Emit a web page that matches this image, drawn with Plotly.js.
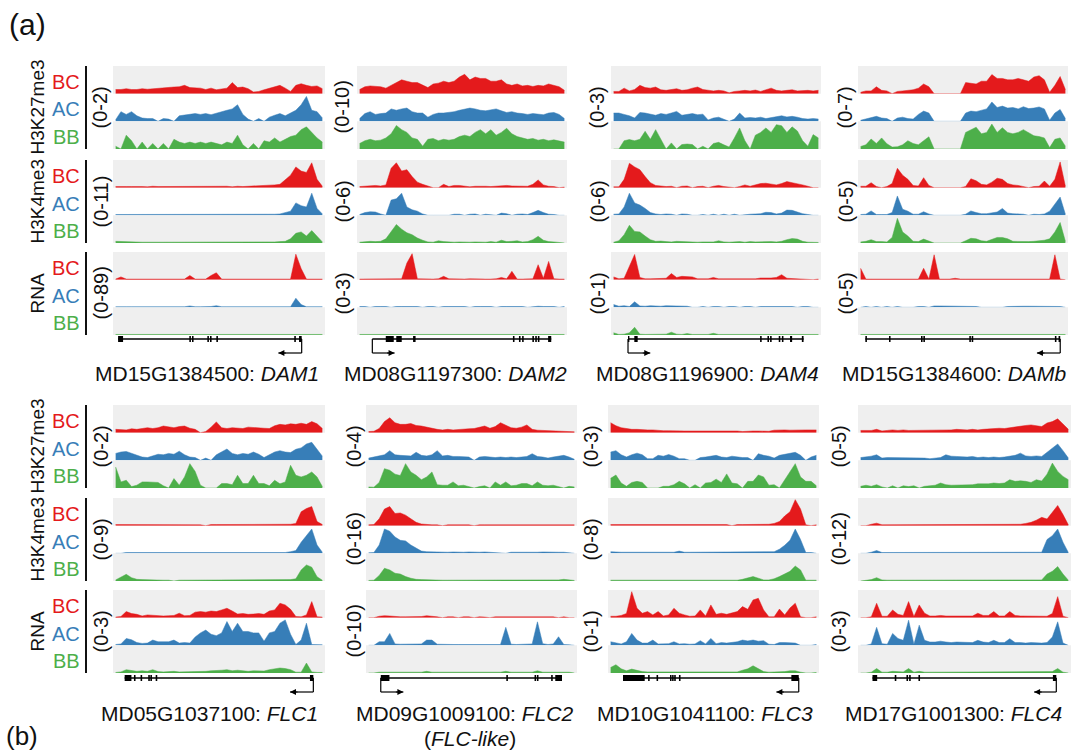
<!DOCTYPE html>
<html><head><meta charset="utf-8">
<script src="https://cdn.plot.ly/plotly-3.0.1.min.js"></script>
<style>html,body{margin:0;padding:0;background:#fff}#chart{width:1081px;height:753px}</style>
</head><body><div id="chart"></div>
<script>
// ---------- bins (40 bins across each gene window) ----------
const pos = [0.5,1.5,2.5,3.5,4.5,5.5,6.5,7.5,8.5,9.5,10.5,11.5,12.5,13.5,14.5,15.5,16.5,17.5,18.5,19.5,20.5,21.5,22.5,23.5,24.5,25.5,26.5,27.5,28.5,29.5,30.5,31.5,32.5,33.5,34.5,35.5,36.5,37.5,38.5,39.5];

// ---------- gene labels / scales ----------
const geneIds = ['MD15G1384500','MD08G1197300','MD08G1196900','MD15G1384600','MD05G1037100','MD09G1009100','MD10G1041100','MD17G1001300'];
const geneNames = ['DAM1','DAM2','DAM4','DAMb','FLC1','FLC2','FLC3','FLC4'];
const markNames = ['H3K27me3','H3K4me3','RNA'];
const tissueNames = ['BC','AC','BB'];
const dam1_ranges = ['(0-2)','(0-11)','(0-89)'];
const dam2_ranges = ['(0-10)','(0-6)','(0-3)'];
const dam4_ranges = ['(0-3)','(0-6)','(0-1)'];
const damb_ranges = ['(0-7)','(0-5)','(0-5)'];
const flc1_ranges = ['(0-2)','(0-9)','(0-3)'];
const flc2_ranges = ['(0-4)','(0-16)','(0-10)'];
const flc3_ranges = ['(0-3)','(0-8)','(0-1)'];
const flc4_ranges = ['(0-5)','(0-12)','(0-3)'];

// ---------- signal values (0-10 = full track scale) ----------
// DAM1
const dam1_k27_bc = [1.5,1.5,1.8,1.5,1.5,1.8,1.6,1.8,2,2,2.2,2.4,2.5,3,2.2,2,2,1.5,2,1.4,1.8,2,4,2.2,2.4,1.8,0.6,0.8,1.4,2,2.5,3,2,0.8,3,3.6,3,2.6,2.8,1.8];
const dam1_k27_ac = [0.6,3.5,2.5,3.5,2,1.2,1,1,0,1,0.8,0,2,2.2,2.4,2.8,2.5,2.8,2.4,3,3.5,4,4.5,6,2.5,0.8,0,1,0,1.5,2.2,2.8,2,3,4,6,9,4,3.5,1.2];
const dam1_k27_bb = [1,0,5,3,0,2.5,0,2,0,2,0,3.5,2.5,2,2.5,2,2.5,2,2.5,2,1.5,2.5,2,5,1.5,0,2,0,3,2.5,4,2.5,3.5,4.5,5,7,8,6,4,2.5];
const dam1_k4_bc = [0.4,0.5,0.4,0.4,0.5,0.4,0.3,0.5,0.4,0.4,0.5,0.4,0.6,0.5,0.4,0.6,0.5,0.4,0.5,0.6,0.4,0.5,0.3,0.5,0.4,0.5,0.4,0.6,0.6,0.8,1,1.2,3,4.5,7.5,6,5.5,9,3,0.5];
const dam1_k4_ac = [0.3,0.3,0.2,0.3,0.3,0.2,0.3,0.3,0.3,0.2,0.3,0.3,0.4,0.3,0.3,0.4,0.3,0.3,0.3,0.3,0.2,0.3,0.3,0.2,0.3,0.3,0.3,0.3,0.3,0.4,0.4,0.5,1,1.5,4.5,3.5,3,8,2.5,0.5];
const dam1_k4_bb = [0.6,0.5,0.4,0.3,0.3,0.3,0.3,0.2,0.3,0.3,0.3,0.3,0.3,0.3,0.3,0.3,0.3,0.3,0.2,0.3,0.3,0.3,0.3,0.3,0.3,0.3,0.3,0.3,0.3,0.3,0.4,0.5,0.6,1.5,3.5,4,2.5,4.5,2.5,0.4];
const dam1_rna_bc = [0.2,1,0.2,0.2,0.2,0.2,0.2,0.2,0.2,0.2,0.2,0.2,0.2,0.2,1.5,0.2,0.2,0.2,1.5,2.5,0.2,0.2,0.2,0.2,0.2,0.2,0.2,0.2,0.2,0.2,0.2,0.2,0.2,0.2,9.2,4,0.2,0.2,0.2,0.2];
const dam1_rna_ac = [0.2,0.3,0.2,0.2,0.2,0.2,0.2,0.2,0.2,0.2,0.2,0.2,0.2,0.2,0.5,0.2,0.2,0.2,0.3,0.6,0.2,0.2,0.2,0.2,0.2,0.2,0.2,0.2,0.2,0.2,0.2,0.2,0.2,0.2,3.3,1,0.2,0.2,0.2,0.2];
const dam1_rna_bb = [0.2,0.2,0.2,0.2,0.2,0.2,0.2,0.2,0.2,0.2,0.2,0.2,0.2,0.2,0.2,0.2,0.2,0.2,0.2,0.2,0.2,0.2,0.2,0.2,0.2,0.2,0.2,0.2,0.2,0.2,0.2,0.2,0.2,0.2,0.2,0.2,0.2,0.2,0.2,0.2];
// DAM2
const dam2_k27_bc = [1.5,2.5,2.8,2.6,2.5,2,3,4,5,4.5,4,4,3,2.2,3.5,3.8,4.5,4,4.5,6,7,5,6,5.5,5.5,4.5,4.5,5,3.5,3,3.5,2.8,3,2.6,3,2.8,3.5,3,2.5,1.2];
const dam2_k27_ac = [1,2.8,3.5,2.5,2.8,3,4.5,4,4.5,4.8,3.5,3,3,1.5,2.5,3,3,3.2,3.5,4,4.5,4.8,4.5,4,3.8,4.2,4.5,3.8,3.2,3.5,3,2.8,2.5,2.8,2.5,2.4,3,3.2,2.5,1];
const dam2_k27_bb = [2,3,3.5,3,3.2,4,5.5,8.5,7,6,4,3.5,1,3.5,3.8,3,3.5,3.2,3.5,4.5,5,4.5,6,7,5.5,7,5,6,7.5,5.5,4.5,4,3.5,3.8,3.2,3.5,3,3.3,3,2.5];
const dam2_k4_bc = [0.4,0.6,0.8,0.8,0.6,1,7,9,6,6.5,4,2,1.2,0.6,0,0,1.2,0.4,0.8,0.8,0.5,0.3,0.5,0.6,0.5,0.4,0.5,0.6,0.8,0.6,0.5,0.6,0.5,1.2,2.8,1,0.5,0.4,0,0.2];
const dam2_k4_ac = [0.3,1,1.3,1.2,0.5,0,5.5,6,8,3,2,1.5,0.5,0,0,0,0,0,0.4,0.4,0,0.4,0.5,0,0.4,0.3,0,0.8,0.6,0,0.4,0.5,0.3,1,1.8,1,0.4,0.3,0,0];
const dam2_k4_bb = [0.3,0.5,0.6,0.5,0.6,1.5,4,6.7,5,3.7,3,1.8,1,0.4,0.3,0.8,0.5,0.3,0.3,0.4,0.3,0.3,0.4,0.3,0.3,0.5,0.3,1,0.5,0.6,0.8,0.4,0.5,1.2,2.4,1,0.5,0.4,0.3,0];
const dam2_rna_bc = [0.2,0.2,0.2,0.2,0.2,0.2,0.2,0.2,0.3,6,9.4,0.3,0.2,0.2,0.2,0.3,1.2,0.3,0.2,0.2,0.2,0.3,0.2,0.2,0.2,0.2,0.3,0.8,0.3,3,0.2,0.2,0.2,0.3,5.4,0.5,6.6,0.3,0.2,0.2];
const dam2_rna_ac = [0.3,0.3,0,0.3,0.3,0.3,0,0.3,0.3,0.4,0.3,0.3,0,0.3,0.3,0,0.3,0.3,0.3,0.3,0.3,0,0.3,0.3,0.3,0.3,0,0.3,0.3,0.3,0.3,0.3,0,0.3,0.4,0.3,0.3,0.3,0,0.3];
const dam2_rna_bb = [0.2,0.2,0.3,0.2,0.2,0.2,0.2,0.2,0.2,0.3,0.2,0.2,0.2,0.2,0.2,0.2,0.3,0.2,0.2,0.2,0.2,0.2,0.2,0.2,0.2,0.2,0.2,0.2,0.2,0.3,0.2,0.2,0.2,0.2,0.2,0.2,0.2,0.2,0.2,0.2];
// DAM4
const dam4_k27_bc = [0.8,0.8,2,1,1.5,3,2.2,2,2.4,1.4,1.2,1.5,1.8,1.2,1.4,2,2.4,1.5,1.2,1,1.2,1,0.3,0.8,1,1.2,1,1.3,0.8,1.4,2,1.2,1,1.2,1.4,1,1.2,1.2,1,1.2];
const dam4_k27_ac = [3,3,2.5,2,1.2,3.2,3,2.5,2.2,2.8,2.5,3,3.6,2.2,2.6,2.8,2.4,2.6,0.5,1.2,1.5,0.8,0,0.8,3,1.2,1.4,1.2,1.5,1,1.4,1.8,2,1.6,1.8,1.5,1,0.8,1,0.8];
const dam4_k27_bb = [0,0,3,3.4,3,3.5,6.4,3.5,7,3.5,0,2.2,0,1.6,1.8,1.6,0,1,0,2,2.4,1.5,0.7,4,7.6,3,0,5,6,7.6,6,8.8,8.4,6,8,6.5,3,1,5.2,4];
const dam4_k4_bc = [0.3,0.3,3,8.8,7.5,6.5,4,1.8,0.8,0.5,0.4,0.5,0,0.5,0.6,0,0.4,0.5,0,0.5,0.8,0.4,0.3,0,0.4,1,0.5,1,1.5,1.6,1.2,1,1.5,2.2,1.8,1.5,1,0.5,0,0];
const dam4_k4_ac = [0.4,0.5,3,8,4.5,3.7,2.5,1,0.5,0.3,0.5,0.4,0,0.5,0.4,0,0,0.3,0,0.4,0,0.4,0,0.4,0,0.3,0.4,0.5,0.6,1.1,1,0.5,0.8,1.9,1.8,1.2,0.6,0.3,0,0];
const dam4_k4_bb = [0.3,0.8,3,6.4,4.2,4,2.5,1.2,0.6,0.7,0.5,0.4,0.6,0.5,0.4,0.5,0.3,0.4,0.5,0.4,0.8,0.4,0.3,0.4,0.5,0.3,0.5,0.4,0.5,0.6,0.5,0.4,0.6,1.2,1.6,1.4,0.6,0.3,0.3,0.2];
const dam4_rna_bc = [1,0.3,0.5,4.9,9.1,0.8,0.3,0.3,0.3,0.3,0.5,2.2,0.8,1.2,1.2,1,0.3,0.3,0.3,0.8,0.3,0.3,0.3,0.3,0.3,0.3,0.3,0.3,0.6,0.5,0.6,0.8,1.8,0.5,0.4,0.3,0.2,0.2,0,0.2];
const dam4_rna_ac = [1,0.4,0.6,0.3,2,0.5,0.4,0.6,0.5,0.4,0.6,0.6,0.4,0.5,0.4,0,0,0.3,0,0.3,0.3,0,0.3,0.3,0,0.3,0.3,0,0.3,0.3,0.3,0.3,0.3,0.3,0.3,0,0.3,0.3,0,0];
const dam4_rna_bb = [0.8,0.2,0.3,0.8,2.8,0.3,0.2,0.2,0.2,0.2,0.3,1,0.3,0.2,0.5,0.2,0.2,0.2,0.2,0.6,0.2,0.2,0.2,0.2,0.2,0.2,0.2,0.2,0.2,0.2,0.2,0.2,0.2,0.2,0.2,0.2,0.2,0.2,0.2,0.2];
// DAMb
const damb_k27_bc = [0.5,1,1,2.5,1.2,1,0,0.8,1,1.2,1.4,2,3.5,2.5,0,0,0,0,0,0,4,3.8,3.5,4.5,4.5,6.9,5.5,5.5,5,5,5.5,5,4.5,6,6.5,5,0.5,3,6.2,1.5];
const damb_k27_ac = [0.4,0.8,1.2,1.8,1.2,1,0,1.2,1.5,1,0.8,2.5,3.7,3,0,0,0,0,0,0,3,3.7,3.5,4,4.5,7,5,5.5,4.8,5,4.5,5.3,4.6,4.8,5.2,4.5,0.4,3,4.3,1];
const damb_k27_bb = [0.9,1.5,3.6,2,4,1.9,0.7,0.8,1.5,3,2,1.5,3,4.4,0,0,0,0,0,0,6,7,7.9,5.5,6,9,6,7.7,6,5.5,6,7,6,4.8,4.5,4,0.5,3.5,4,1];
const damb_k4_bc = [0.5,0.5,1.8,0.4,0,0.4,1.5,7,4.5,3,0.8,0.6,3.6,0.8,0,0,0,0,0,0,0.4,3.2,2.5,1.2,1,2,3.4,3,1.5,1,0.8,0.4,0,0.4,0.5,2.4,0.5,3,9.3,0.5];
const damb_k4_ac = [0.3,0.4,1.6,0.3,0.3,0.3,1,7,2.2,1.5,0.4,0.4,1.3,0.5,0,0,0,0,0,0,0.4,1.6,1,0.6,0.6,0.8,1.2,2.5,0.8,0.6,0.6,0.4,0,0.4,0.3,0.5,1.5,4,6.6,0.4];
const damb_k4_bb = [0.4,0.6,1.2,0.5,0.5,0.4,2,8.9,4,2.5,0.6,0.5,1.4,0.6,0,0,0,0,0,0,0.8,1.7,1.5,0.8,0.6,1.2,2,2,1.5,0.6,0.5,0.4,0.5,0.6,0.8,1,1.5,4,7.4,0.6];
const damb_rna_bc = [4.1,0.2,0.2,0.2,0.2,0.2,0.2,0.2,0.2,0.2,0.2,0.2,4.1,0.2,9,0.2,0.2,0.2,0.5,0.2,0.2,0.2,0.2,0.2,0.2,0.2,0.2,0.2,0.2,0.2,0.2,0.2,0.2,0.2,0.2,0.2,0.2,9,0.2,0];
const damb_rna_ac = [0,0.3,0,0.3,0,0.3,0,0.3,0,0,0,0.3,0.3,0,0.5,0.5,0.5,0.5,0.5,0.5,0.5,0.5,0.3,0,0,0,0,0,0.3,0.4,0.4,0.4,0.4,0.4,0.4,0.4,0.4,0.4,0.3,0];
const damb_rna_bb = [0.2,0.2,0.2,0.2,0.2,0.2,0.2,0.2,0.2,0.2,0.2,0.2,0.2,0.2,0.4,0.4,0.4,0.4,0.4,0.3,0.2,0.2,0.2,0.2,0.2,0.2,0.2,0.2,0.2,0.2,0.2,0.2,0.2,0.2,0.2,0.2,0.2,0.2,0.2,0.2];
// FLC1
const flc1_k27_bc = [1.2,1.2,1,1.4,1.2,1.5,1.8,1.5,1.8,2.4,2,1.8,2.2,2.4,1.6,1.2,0,0.4,2,3.9,1.8,1.5,1.8,1.6,1.5,2,1.8,1.6,1.6,1.5,2.5,3,2.8,3.2,3,3.4,3,4,3.2,1.5];
const flc1_k27_ac = [2.5,3,3.2,2.5,2,1.2,1,1.5,2.2,2,2.5,2.2,3.3,2,1.2,1,0,0.8,0,2,3,4.1,2.5,2,2.5,2.2,3,2.2,1,2,3,3.5,3,2.8,4,4.5,5.9,6.5,4,1.5];
const flc1_k27_bb = [7.6,2.2,2.8,0.5,1,2.2,2.2,2.2,2,0.8,0,3.4,1,4,8.8,6,1,0,0,0,1.6,1.6,1.2,4.6,1.6,1.6,4.6,1.6,1.6,0.8,2.8,1.5,2.2,8.2,4.6,4,4.6,5.8,4,0.5];
const flc1_k4_bc = [0.4,0.4,0.4,0.4,0.3,0.4,0.4,0.3,0.4,0.4,0.4,0.3,0.4,0.4,0.4,0.4,0.3,0,0.4,0.4,0.4,0.4,0.4,0.3,0.4,0.4,0.4,0.4,0.4,0.4,0.4,0.4,0.5,0.5,0.8,5,6.2,6.9,1.5,0.4];
const flc1_k4_ac = [0,0,0.3,0.3,0.3,0.3,0.3,0.3,0.3,0.3,0.3,0.3,0.3,0.3,0.3,0.3,0.3,0.3,0.3,0.3,0.3,0.3,0.3,0.3,0.3,0.3,0.3,0.3,0.3,0.3,0.3,0.3,0.3,0.6,1,4,6.5,8.8,3,0.4];
const flc1_k4_bb = [0.4,1.5,2.4,1.2,0.6,0.5,0.4,0.4,0.4,0.3,0.3,0,0.3,0.3,0.3,0.3,0.3,0.3,0.3,0.3,0.3,0.3,0.3,0.3,0.3,0.3,0.3,0.3,0.3,0.3,0.3,0.3,0.3,0.5,0.8,4,5.8,5,1.5,0.3];
const flc1_rna_bc = [0.2,0.4,2.2,1.5,1.2,0.6,1,0.8,0.7,0.6,0.7,0.8,1.6,0.7,0.8,2,2.2,2,2.4,2.2,2.8,3.4,2.4,1.3,1.5,1.2,1.3,1.5,1.2,2.4,2.8,5.2,4.6,3,0.4,0.3,1,5.8,0.3,0.2];
const flc1_rna_ac = [0.3,0.5,2.5,2,1,0.7,0.8,1.9,1.3,1.2,1.3,1.9,0.8,1,0.8,3,4.5,5.5,4,3.5,4.5,8.6,5,8,5,5,4.5,4.5,1.5,4.5,5,8,9.2,4,0.3,1.9,8,0.3,0.2,0.2];
const flc1_rna_bb = [0.2,0.4,1.2,0.8,0.6,0.8,0.6,1.2,0.5,0.4,0.5,0.6,0.4,0.4,0.6,0.5,0.6,0.6,0.8,0.8,1,1.2,0.8,1,0.8,0.6,0.8,0.8,0.7,1.2,1.4,1.8,1.6,1.2,0.3,0.3,3.6,0.4,0.2,0.2];
// FLC2
const flc2_k27_bc = [0.4,0.5,1.5,4,5.4,3.6,3,3,3.3,2.6,2.4,2,1.4,1.2,1,1.2,1,1.2,1.2,1.4,1.5,2,2.4,1.6,2.2,3.6,2.6,1.8,1.6,2,2.8,1.2,0.9,0.8,0.8,0.8,0.6,0.4,0.4,0.3];
const flc2_k27_ac = [0.8,1.2,1.4,2,3.5,2,1.8,1.8,1.6,2.9,1.8,1.6,2,3.5,1.6,1.8,1.4,1.4,1.2,1.2,0,1.2,1.4,1.2,1,1.2,1,1.2,1,1.2,1.4,2.4,1.4,1.2,0.8,1.2,1.6,1.8,1.2,0.4];
const flc2_k27_bb = [0.4,0.3,2,7,6.4,5,4.5,8.8,5.8,4.6,3,4,5.8,1.2,1,1,2.2,0.8,1,0.5,0,0.5,0.8,0,2.2,1,2.2,0.8,1,1.6,1.6,0.8,2.2,1,0.8,1,0.6,0,0.6,0.4];
const flc2_k4_bc = [0.3,0.4,2.5,6,6.9,4.4,4.6,3.8,2.5,1.2,0.6,0.4,0.3,0.3,0,0.3,0.3,0.3,0.3,0.3,0,0.3,0.3,0.3,0.3,0.3,0.3,0.3,0.3,0.3,0.3,0.3,0.3,0.3,0.3,0.4,0.4,0.3,0.3,0.3];
const flc2_k4_ac = [0.2,0.3,3,8.8,8,5.9,4.7,4.5,3,1.8,0.8,0.6,0.5,0.5,0.5,0.4,0.5,0.4,0.4,0.5,0.4,0.4,0.5,0.4,0.4,0.3,0,0.4,0.5,0.4,0.4,0.3,0.4,0.5,0.4,0.3,0.4,0.4,0.3,0];
const flc2_k4_bb = [0.2,0.3,2,4.6,4,2.8,2.5,1.6,1,0.6,0.5,0.4,0.3,0.3,0.3,0.3,0.3,0.3,0.3,0.3,0.3,0.3,0.3,0.3,0.3,0.3,0.3,0.3,0.3,0.3,0.3,0.3,0.3,0.3,0.3,0.3,0.4,0.6,0.5,0.2];
const flc2_rna_bc = [0,0,0.5,0.7,0.6,0.4,0.3,0.3,0.3,0.3,0.4,0.7,0.6,0.3,0,0.3,0.3,0,0.3,0.3,0,0.3,0.2,0,0.3,0.3,0.3,0.3,0.3,0.3,0.3,0.3,0.3,0.3,0.3,0.3,0,0.3,0,0];
const flc2_rna_ac = [0,0,1.3,1.3,4.3,0.5,0.4,0.4,0.3,0.4,0.5,1.9,1.9,0.4,0.3,0.3,0.3,0.3,0.3,0.3,0.3,0.3,0.3,0.3,0.3,0.3,6.5,0.4,0.3,0.4,0.4,0.5,8.5,0.6,0.3,0.5,3.1,0.3,0.2,0];
const flc2_rna_bb = [0,0,0.3,0.3,0.3,0.3,0.3,0.3,0.3,0.3,0.3,0.6,0.3,0.3,0.3,0.3,0.3,0.3,0.3,0.3,0.3,0.3,0.3,0.3,0.3,0.3,0.6,0.3,0.3,0.3,0.3,0.3,0.8,0.3,0.3,0.3,0.3,0.3,0.3,0];
// FLC3
const flc3_k27_bc = [3.6,2.5,1.8,1.5,1.2,1.2,1,1,1,0.8,0.7,0.7,0.6,0.7,0.6,0.6,0.6,0.7,0.6,0.6,0.7,0.6,0.6,0.5,0.6,0.4,0.6,0.6,0.6,0.5,0.5,0.9,1,1,0.9,1,0.9,1,1,1];
const flc3_k27_ac = [3,3.5,2,1.2,2,2.6,2,0.6,0.6,1.8,1.5,2.1,1.5,0.6,0.6,0,0,1,1.2,1.5,1.8,1.2,1,1.5,1.2,1,1,0,2.4,1.8,1.5,0.8,1.8,2.2,2.6,2.9,1.8,0,1.2,1.8];
const flc3_k27_bb = [3.5,4.7,1.8,0.6,2,2.4,2,0,0,0,0.6,0.6,1.2,2.4,1.5,0,1.2,0,1.8,2,3.2,2,5.1,1.8,1.5,0,2.4,2.4,4.7,4,1,1.2,0,3,6,8.8,4,2.4,2.4,0.8];
const flc3_k4_bc = [0.4,0.4,0.4,0.5,0.4,0.4,0.4,0.4,0.5,0.4,0.4,0.4,0.4,0.4,0.4,0.4,0.4,0.5,0.4,0.4,0.4,0.4,0.4,0,0.4,0.4,0.4,0.4,0.4,0.4,0.5,0.8,1.5,3.5,5,9.4,6,0.3,0,0.3];
const flc3_k4_ac = [0.6,0.4,0.4,0.4,0.4,0.4,0.4,0.4,0.4,0.4,0.4,0.4,0.4,0.8,0.4,0.4,0.4,0.4,0.4,0.4,0.4,0.4,0.4,0.4,0.4,0.4,0.4,0.4,0.4,0.4,0.4,0.6,1.5,2.9,4.7,8.8,5,0.3,0.3,0];
const flc3_k4_bb = [0.3,0.3,0.3,0.3,0.3,0.3,0.3,0.3,0.3,0.3,0.3,0.3,0.3,0.3,0.3,0.3,0.3,0.3,0.3,0.3,0.3,0.3,0.3,0.3,0.3,0.6,1.2,1.6,1,0.4,0.4,0.8,1.6,2.5,3.5,5.4,4,0.3,0.3,0.3];
const flc3_rna_bc = [0.5,0.5,0.8,1.5,9.4,3.4,1.6,2.2,1,2.2,0.6,1,3.4,1.6,1,0.5,0.6,2.8,0.6,4.6,1.2,1.6,1.2,1.6,2.2,4,3,6.4,7,2.8,0.3,0.3,3.1,1,3.5,5.2,0.3,0,0,0.3];
const flc3_rna_ac = [1.3,1,0.5,1.3,4.3,1.9,0.8,0.8,1.9,0.5,0.5,0.6,1.3,0.5,0.6,0.4,0.5,1.7,0.5,2.5,0.6,1,0.8,1,1.3,1.9,1.6,1.9,1.5,1.7,0.4,0.3,1,1,1,0.8,0,0,0,0.3];
const flc3_rna_bb = [2,3,1.5,0.8,1.4,1,0.5,0.4,0.4,0.5,0.4,0.5,0.4,0.3,0.3,0.3,0.3,0.3,0.3,0.3,0.3,0.3,0.3,0.3,0.4,1,1.5,2.6,1.5,0.5,0.3,0.3,0.4,0.5,0.8,0.8,0.3,0,0,0.2];
// FLC4
const flc4_k27_bc = [0.8,0.8,0.8,1.2,0.6,0.8,1,0.8,1,0.8,0.8,0.8,1,0.8,0.8,1,0.8,1,1.2,1,1,1.2,1,1.2,1.4,1.5,1.6,1.5,1.8,2,2.5,2.6,2.8,2.6,2.2,3.5,4,5,3,1.2];
const flc4_k27_ac = [1,1.2,1.5,2,0.8,1,1,1,0.8,1,0.8,1,0.8,0.6,0.8,1,2,1.5,1.4,1.2,1.2,1.4,1,1.2,1,1.2,1,1.2,1.4,1.8,2.6,1.6,1.4,1.6,1.4,3,4.5,5.9,3.5,0.8];
const flc4_k27_bb = [0.6,1,0.6,1.2,0.4,0,0.8,0,0.8,0.5,0.8,0,0.6,0.8,1,1.8,1.2,1,1,1.2,1,1.2,1.5,1.4,1.5,1.8,1.6,1.8,3,2.4,2.6,2.4,2,3,2.5,5,9,6,4.2,3];
const flc4_k4_bc = [0,0,0.5,0.9,0.3,0.3,0.3,0.3,0.3,0.3,0.3,0.3,0.3,0.3,0.3,0.3,0.3,0.3,0.3,0.3,0.3,0.3,0.3,0.3,0.3,0.3,0.3,0.3,0.3,0.4,0.5,0.8,1.2,2,3,2.4,5,7.3,4,0.3];
const flc4_k4_ac = [0,0,0.4,1,0.3,0.3,0.3,0.3,0.3,0.3,0.3,0.3,0.3,0.3,0.3,0.3,0.3,0.3,0.3,0.3,0.3,0.3,0.3,0.3,0.3,0.3,0.3,0.3,0.3,0.3,0.3,0.3,0.3,0.3,0.4,5,6.4,8.8,4,0.3];
const flc4_k4_bb = [0,0.3,0.5,1.2,0.4,0.3,0.3,0.3,0.3,0.3,0.3,0.3,0.3,0.3,0.3,0.3,0.3,0.3,0.3,0.3,0.3,0.3,0.3,0.3,0.3,0.3,0.3,0.3,0.3,0.3,0.3,0.3,0.3,0.3,0.4,2.5,3.5,5.2,2.5,0.3];
const flc4_rna_bc = [0,0,0.3,5.2,0.5,0.5,2.8,1.2,0.8,5.8,0.4,4.6,1.6,0.6,0.6,0.8,0.6,0.6,0.8,0.6,0.6,0.6,1.6,0.8,0.8,2.2,0.6,0.6,2.2,0.8,0.6,0.6,0.6,0.5,0.5,0.5,1.5,7.6,0.5,0];
const flc4_rna_ac = [0,0,0.5,6.5,0.6,0.4,4.3,2.5,1.8,9.1,0.4,7.3,1.8,1.2,1.2,1.5,1.2,1,1.2,1.2,1,1,1.8,1.2,1,1.8,1,1,2.4,1,1,0.8,1,0.8,0.8,1,3,8.5,0.8,0];
const flc4_rna_bb = [0,0,0.3,1.6,0.3,0.3,0.6,0.4,0.4,1.6,0.3,0.6,0.3,0.3,0.3,0.3,0.3,0.3,0.3,0.3,0.3,0.3,0.3,0.3,0.3,0.3,0.3,0.3,0.3,0.3,0.3,0.3,0.3,0.3,0.3,0.3,0.5,1.6,0.3,0];

// ---------- gene models (in bin coordinates 0-40) ----------
const dam1_span = [0.96,35.6];
const dam1_exons = [[0.96,1.9],[14.4,14.7],[14.9,15.2],[17.8,18.1],[18.3,18.6],[19.5,19.8],[34.2,34.5],[35.1,35.6]];
const dam1_tss = [35.6,31.2];
const dam2_span = [2.92,37.0];
const dam2_exons = [[5.48,7.0],[7.48,8.52],[10.68,11.16],[29.7,30.0],[30.85,31.15],[31.45,31.75],[33.4,33.7],[33.95,34.25],[34.45,34.75],[36.4,37.0]];
const dam2_tss = [2.92,7.16];
const dam4_span = [3.24,36.68];
const dam4_exons = [[3.24,3.5],[4.44,5.08],[28.4,28.7],[29.8,30.1],[30.3,30.6],[31.95,32.25],[32.55,32.85],[34.1,34.5],[36.35,36.68]];
const dam4_tss = [3.24,7.48];
const damb_span = [1.4,38.52];
const damb_exons = [[1.4,1.7],[5.9,6.2],[12.0,12.3],[12.45,12.75],[21.2,21.5],[21.65,21.95],[37.5,37.8],[38.2,38.52]];
const damb_tss = [38.52,34.08];
const flc1_span = [2.2,37.8];
const flc1_exons = [[2.2,3.48],[3.95,4.25],[5.2,5.5],[6.65,6.95],[7.05,7.35],[8.05,8.35],[37.16,37.8]];
const flc1_tss = [37.8,33.4];
const flc2_span = [2.8,37.16];
const flc2_exons = [[2.8,4.44],[26.6,26.9],[31.95,32.25],[32.4,32.7],[35.1,35.4],[35.88,37.16]];
const flc2_tss = [2.8,7.08];
const flc3_span = [2.84,36.16];
const flc3_exons = [[2.84,6.96],[7.6,7.9],[9.2,9.5],[11.75,12.05],[12.15,12.45],[12.55,12.85],[13.45,13.75],[34.76,36.16]];
const flc3_tss = [36.16,31.92];
const flc4_span = [2.72,37.24];
const flc4_exons = [[2.72,3.6],[6.9,7.2],[9.1,9.4],[9.6,9.9],[11.35,11.65],[36.6,37.24]];
const flc4_tss = [37.24,33.08];

// ---------- assemble ----------
const genes = [
  {ranges:dam1_ranges, span:dam1_span, exons:dam1_exons, tss:dam1_tss, tracks:[dam1_k27_bc,dam1_k27_ac,dam1_k27_bb,dam1_k4_bc,dam1_k4_ac,dam1_k4_bb,dam1_rna_bc,dam1_rna_ac,dam1_rna_bb]},
  {ranges:dam2_ranges, span:dam2_span, exons:dam2_exons, tss:dam2_tss, tracks:[dam2_k27_bc,dam2_k27_ac,dam2_k27_bb,dam2_k4_bc,dam2_k4_ac,dam2_k4_bb,dam2_rna_bc,dam2_rna_ac,dam2_rna_bb]},
  {ranges:dam4_ranges, span:dam4_span, exons:dam4_exons, tss:dam4_tss, tracks:[dam4_k27_bc,dam4_k27_ac,dam4_k27_bb,dam4_k4_bc,dam4_k4_ac,dam4_k4_bb,dam4_rna_bc,dam4_rna_ac,dam4_rna_bb]},
  {ranges:damb_ranges, span:damb_span, exons:damb_exons, tss:damb_tss, tracks:[damb_k27_bc,damb_k27_ac,damb_k27_bb,damb_k4_bc,damb_k4_ac,damb_k4_bb,damb_rna_bc,damb_rna_ac,damb_rna_bb]},
  {ranges:flc1_ranges, span:flc1_span, exons:flc1_exons, tss:flc1_tss, tracks:[flc1_k27_bc,flc1_k27_ac,flc1_k27_bb,flc1_k4_bc,flc1_k4_ac,flc1_k4_bb,flc1_rna_bc,flc1_rna_ac,flc1_rna_bb]},
  {ranges:flc2_ranges, span:flc2_span, exons:flc2_exons, tss:flc2_tss, tracks:[flc2_k27_bc,flc2_k27_ac,flc2_k27_bb,flc2_k4_bc,flc2_k4_ac,flc2_k4_bb,flc2_rna_bc,flc2_rna_ac,flc2_rna_bb]},
  {ranges:flc3_ranges, span:flc3_span, exons:flc3_exons, tss:flc3_tss, tracks:[flc3_k27_bc,flc3_k27_ac,flc3_k27_bb,flc3_k4_bc,flc3_k4_ac,flc3_k4_bb,flc3_rna_bc,flc3_rna_ac,flc3_rna_bb]},
  {ranges:flc4_ranges, span:flc4_span, exons:flc4_exons, tss:flc4_tss, tracks:[flc4_k27_bc,flc4_k27_ac,flc4_k27_bb,flc4_k4_bc,flc4_k4_ac,flc4_k4_bb,flc4_rna_bc,flc4_rna_ac,flc4_rna_bb]}
];

// ---------- layout geometry (pixels) ----------
const W = 1081, H = 753;
const colX = [[113,325],[357,567],[611,821],[858,1068],[113,325],[366,577],[608,819],[858,1071]];
const groupTop = [[66,160,252],[405,498,590]];
const groupH = 83;
const rangeLabelX = [100,342,597,845,100,353,590,838];
const geneLabelX = [207,455,707,954,209,464,705,953];
const geneLineY = [339,678], arrowY = [353,692], labelY = [373,713];
const tissueColors = ['#e41a1c','#377eb8','#4daf4a'];
const FONT = 'Liberation Sans, Arial, Helvetica, sans-serif';
const px = v => v / W, py = v => 1 - v / H;

const data = [];
const layout = {
  width: W, height: H, margin: {l:0, r:0, t:0, b:0},
  paper_bgcolor: '#ffffff', plot_bgcolor: 'rgba(0,0,0,0)',
  showlegend: false, font: {family: FONT, color: '#111'},
  shapes: [], annotations: []
};

genes.forEach((g, p) => {
  const row = p < 4 ? 0 : 1;
  const xr = p === 0 ? 'x' : 'x' + (p + 1);
  const xname = p === 0 ? 'xaxis' : 'xaxis' + (p + 1);
  const firstY = p * 9 + 1;
  layout[xname] = {domain: [px(colX[p][0]), px(colX[p][1])], range: [0, 40], visible: false, fixedrange: true,
                   anchor: firstY === 1 ? 'y' : 'y' + firstY};
  g.tracks.forEach((vals, t) => {
    const grp = Math.floor(t / 3), s = t % 3;
    const top = groupTop[row][grp] + s * groupH / 3, bot = top + groupH / 3;
    const yi = p * 9 + t + 1;
    const yr = yi === 1 ? 'y' : 'y' + yi;
    layout[yi === 1 ? 'yaxis' : 'yaxis' + yi] = {domain: [py(bot), py(top)], range: [0, 10], visible: false, fixedrange: true, anchor: xr};
    if (s !== 1) {
      layout.shapes.push({type:'rect', xref: xr + ' domain', yref: yr + ' domain', x0:0, x1:1, y0:0, y1:1,
        fillcolor:'#efefef', line:{width:0}, layer:'below'});
    }
    data.push({type:'scatter', mode:'lines', x: pos, y: vals, xaxis: xr, yaxis: yr,
      line:{width:0.5, color: tissueColors[s]}, fill:'tozeroy', fillcolor: tissueColors[s], hoverinfo:'skip'});
  });
  // range labels
  for (let grp = 0; grp < 3; grp++) {
    const cy = groupTop[row][grp] + groupH / 2;
    layout.annotations.push({text: g.ranges[grp], x: px(rangeLabelX[p]), y: py(cy), xref:'paper', yref:'paper',
      showarrow:false, textangle:-90, xanchor:'center', yanchor:'middle', font:{size:20, family:FONT, color:'#111'}});
  }
  // gene model
  const ly = geneLineY[row], ay = arrowY[row];
  layout.shapes.push({type:'line', xref: xr, yref:'paper', x0: g.span[0], x1: g.span[1], y0: py(ly), y1: py(ly), line:{color:'#000', width:1.5}});
  g.exons.forEach(e => layout.shapes.push({type:'rect', xref: xr, yref:'paper', x0: e[0], x1: e[1], y0: py(ly + 3), y1: py(ly - 3), fillcolor:'#000', line:{width:0}}));
  layout.shapes.push({type:'line', xref: xr, yref:'paper', x0: g.tss[0], x1: g.tss[0], y0: py(ly), y1: py(ay), line:{color:'#000', width:1.2}});
  layout.shapes.push({type:'line', xref: xr, yref:'paper', x0: g.tss[0], x1: g.tss[1], y0: py(ay), y1: py(ay), line:{color:'#000', width:1.2}});
  const dir = g.tss[1] < g.tss[0] ? 1 : -1;
  layout.annotations.push({text:'', x: g.tss[1], y: py(ay), xref: xr, yref:'paper', showarrow:true, axref:'pixel', ayref:'pixel',
    ax: dir * 9, ay: 0, arrowhead:2, arrowsize:1, arrowwidth:1.2, arrowcolor:'#000', standoff:0});
  // gene label
  layout.annotations.push({text: geneIds[p] + ': <i>' + geneNames[p] + '</i>', x: px(geneLabelX[p]), y: py(labelY[row]),
    xref:'paper', yref:'paper', showarrow:false, xanchor:'center', yanchor:'middle', font:{size:21, family:FONT, color:'#111'}});
});

// FLC-like subtitle
layout.annotations.push({text:'(<i>FLC-like</i>)', x: px(470), y: py(738), xref:'paper', yref:'paper', showarrow:false,
  xanchor:'center', yanchor:'middle', font:{size:21, family:FONT, color:'#111'}});

// left-side labels (mark names, tissue names, brackets)
[0, 1].forEach(row => {
  for (let grp = 0; grp < 3; grp++) {
    const top = groupTop[row][grp];
    layout.annotations.push({text: markNames[grp], x: px(37), y: py(top + groupH / 2), xref:'paper', yref:'paper', showarrow:false,
      textangle:-90, xanchor:'center', yanchor:'middle', font:{size:19, family:FONT, color:'#111'}});
    layout.shapes.push({type:'line', xref:'paper', yref:'paper', x0: px(86), x1: px(86), y0: py(top), y1: py(top + groupH), line:{color:'#111', width:2}});
    for (let s = 0; s < 3; s++) {
      layout.annotations.push({text: tissueNames[s], x: px(66), y: py(top + s * groupH / 3 + groupH / 6 + 2), xref:'paper', yref:'paper',
        showarrow:false, xanchor:'center', yanchor:'middle', font:{size:20, family:FONT, color: tissueColors[s]}});
    }
  }
});

// panel letters
layout.annotations.push({text:'(a)', x: px(7), y: py(25), xref:'paper', yref:'paper', showarrow:false, xanchor:'left', yanchor:'middle', font:{size:30, family:FONT, color:'#111'}});
layout.annotations.push({text:'(b)', x: px(4), y: py(736), xref:'paper', yref:'paper', showarrow:false, xanchor:'left', yanchor:'middle', font:{size:26, family:FONT, color:'#111'}});

Plotly.newPlot('chart', data, layout, {staticPlot:true, displayModeBar:false});
</script>
</body></html>
